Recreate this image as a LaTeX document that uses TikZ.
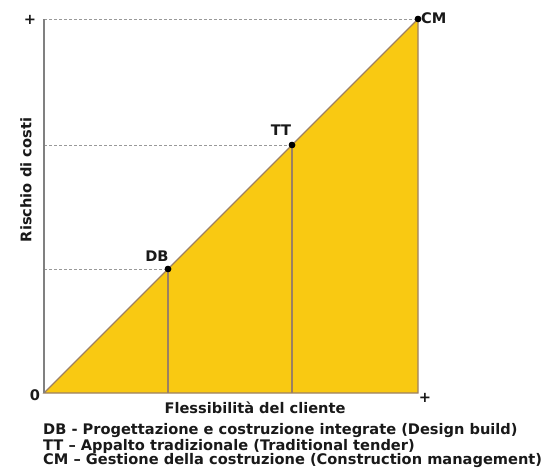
\documentclass[tikz,border=0pt]{standalone}
\usepackage{fontspec}
\setmainfont{DejaVu Sans}
\begin{document}
\begin{tikzpicture}[x=1pt,y=-1pt,
  lbl/.style={font=\bfseries\fontsize{14.6}{16}\selectfont, text=black!90, inner sep=0pt},
  dot/.style={circle, fill=black, inner sep=0pt, minimum size=6.5pt},
  guide/.style={draw=gray!80, dashed, dash pattern=on 3pt off 2pt, line width=0.9pt},
  edge/.style={draw=brown!45!gray, line width=1.1pt}]
\definecolor{fillyel}{HTML}{F9C912}
\useasboundingbox (0,0) rectangle (549,474);
\coordinate (O) at (44,393);
\coordinate (Y) at (44,19);
\coordinate (X) at (418,393);
\coordinate (DBb) at (168,393);
\coordinate (TTb) at (292,393);
\coordinate (DBy) at (44,269);
\coordinate (TTy) at (44,145);
\fill[fillyel] (O) -- (418,19) -- (X) -- cycle;
\node[dot] (cm) at (418,19) {};
\node[dot] (tt) at (292,145) {};
\node[dot] (db) at (168,269) {};
\draw[guide] (Y) -- (cm);
\draw[guide] (TTy) -- (tt);
\draw[guide] (DBy) -- (db);
\draw[edge] (O) -- (cm.center) -- (X) -- cycle;
\draw[edge] (db.center) -- (DBb);
\draw[edge] (tt.center) -- (TTb);
\draw[draw=gray, line width=1.1pt] (O) -- (Y);
\node[dot] at (418,19) {};
\node[dot] at (292,145) {};
\node[dot] at (168,269) {};
\node[lbl, anchor=west] (cml) at (421,18) {CM};
\node[lbl] (ttl) at (281,130) {TT};
\node[lbl] (dbl) at (157,256) {DB};
\node[lbl] (plusy) at (30,20) {+};
\node[lbl] (zero) at (35,395) {0};
\node[lbl] (plusx) at (425,398) {+};
\node[lbl, rotate=90] (ylab) at (26,180) {Rischio di costi};
\node[lbl] (xlab) at (255,408) {Flessibilità del cliente};
\node[lbl, anchor=west] (l1) at (43,431) {DB - Progettazione e costruzione integrate (Design build)};
\node[lbl, anchor=west] (l2) at (43,446) {TT – Appalto tradizionale (Traditional tender)};
\node[lbl, anchor=west] (l3) at (43,461) {CM – Gestione della costruzione (Construction management)};
\end{tikzpicture}
\end{document}
